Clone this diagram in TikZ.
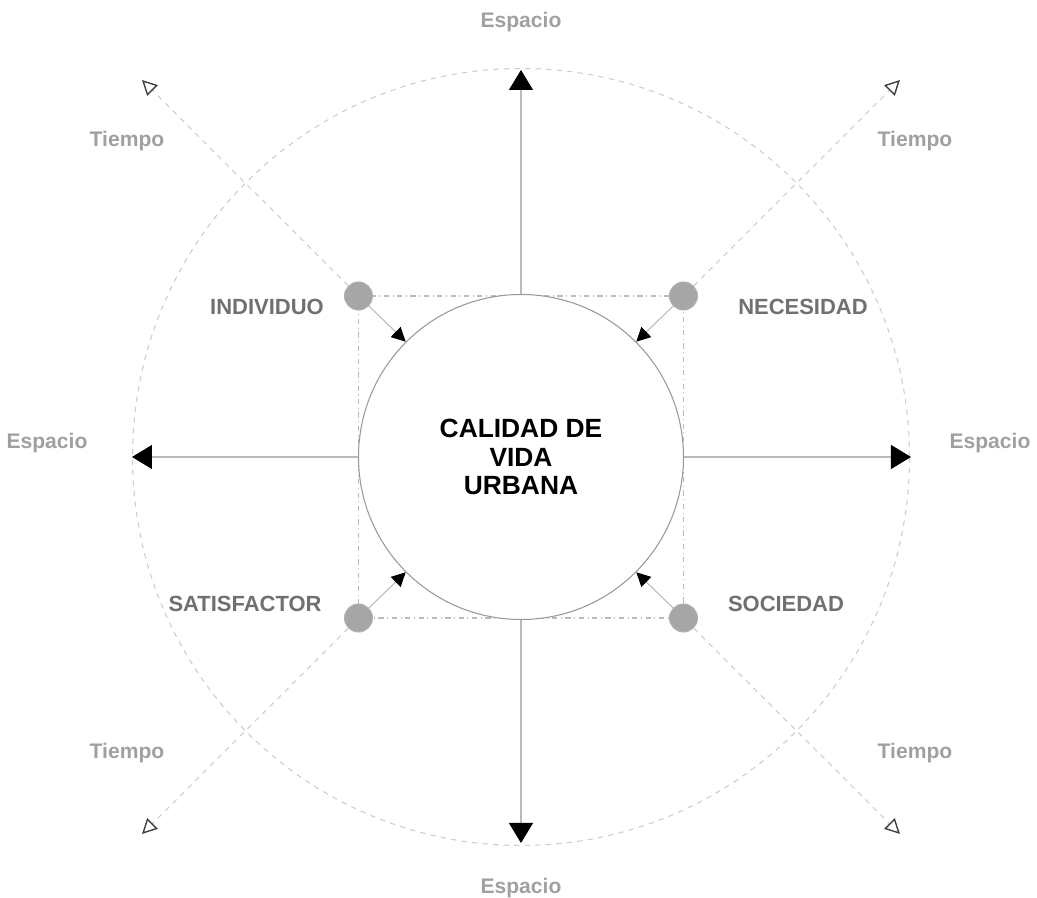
\documentclass[tikz,border=0pt]{standalone}
\usepackage{fontspec}
\setmainfont{Liberation Sans}
\usetikzlibrary{arrows.meta}
\definecolor{axis}{HTML}{BBBBBB}
\definecolor{faint}{HTML}{CCCCCC}
\definecolor{lbl}{HTML}{707070}
\definecolor{dim}{HTML}{A0A0A0}
\begin{document}
\begin{tikzpicture}[every path/.style={line width=0.6pt},
  espacio/.style={draw=axis,-{Triangle[length=0.4cm,width=0.48cm,color=black]}},
  tiempo/.style={draw=faint,dashed,-{Triangle[open,length=0.3cm,width=0.3cm,color=gray!50!black,line width=0.8pt]}},
  haciac/.style={draw=axis,-{Triangle[length=0.28cm,width=0.28cm,color=black]}},
  punto/.style={circle,fill=gray!70,draw=gray!60,minimum size=0.56cm,inner sep=0pt},
  rotulo/.style={font=\bfseries\fontsize{12.5}{14}\selectfont,text=lbl},
  eje/.style={font=\bfseries\fontsize{12}{14}\selectfont,text=dim}]
\useasboundingbox (-10.42,-8.82) rectangle (10.32,9.14);
\draw[faint,dashed] (0,0) circle (7.77);
\draw[axis,dash dot] (-3.25,-3.22) rectangle (3.25,3.22);
\node[circle,draw=gray!80,fill=white,minimum size=6.5cm,align=center,
  font=\bfseries\fontsize{15}{16}\selectfont] (c) at (0,0) {CALIDAD DE\\VIDA\\URBANA};
\node[punto] (d1) at (-3.25,3.22) {};
\node[punto] (d2) at (3.25,3.22) {};
\node[punto] (d3) at (-3.25,-3.22) {};
\node[punto] (d4) at (3.25,-3.22) {};
\coordinate (en) at (0,7.74);
\coordinate (es) at (0,-7.72);
\coordinate (eo) at (-7.78,0);
\coordinate (ee) at (7.8,0);
\coordinate (t1) at (-7.58,7.54);
\coordinate (t2) at (7.58,7.54);
\coordinate (t3) at (-7.58,-7.54);
\coordinate (t4) at (7.58,-7.54);
\draw[espacio] (c.north) to (en);
\draw[espacio] (c.south) to (es);
\draw[espacio] (c.west) to (eo);
\draw[espacio] (c.east) to (ee);
\draw[tiempo] (d1) to (t1);
\draw[tiempo] (d2) to (t2);
\draw[tiempo] (d3) to (t3);
\draw[tiempo] (d4) to (t4);
\draw[haciac] (d1) to (c.north west);
\draw[haciac] (d2) to (c.north east);
\draw[haciac] (d3) to (c.south west);
\draw[haciac] (d4) to (c.south east);
\node[eje] (n1) at (0,8.7) {Espacio};
\node[eje] (n2) at (0,-8.62) {Espacio};
\node[eje] (n3) at (-9.48,0.28) {Espacio};
\node[eje] (n4) at (9.38,0.28) {Espacio};
\node[eje] (m1) at (-7.88,6.32) {Tiempo};
\node[eje] (m2) at (7.88,6.32) {Tiempo};
\node[eje] (m3) at (-7.88,-5.92) {Tiempo};
\node[eje] (m4) at (7.88,-5.92) {Tiempo};
\node[rotulo] (r1) at (-5.08,3.0) {INDIVIDUO};
\node[rotulo] (r2) at (5.64,3.0) {NECESIDAD};
\node[rotulo] (r3) at (-5.52,-2.94) {SATISFACTOR};
\node[rotulo] (r4) at (5.3,-2.94) {SOCIEDAD};
\end{tikzpicture}
\end{document}
